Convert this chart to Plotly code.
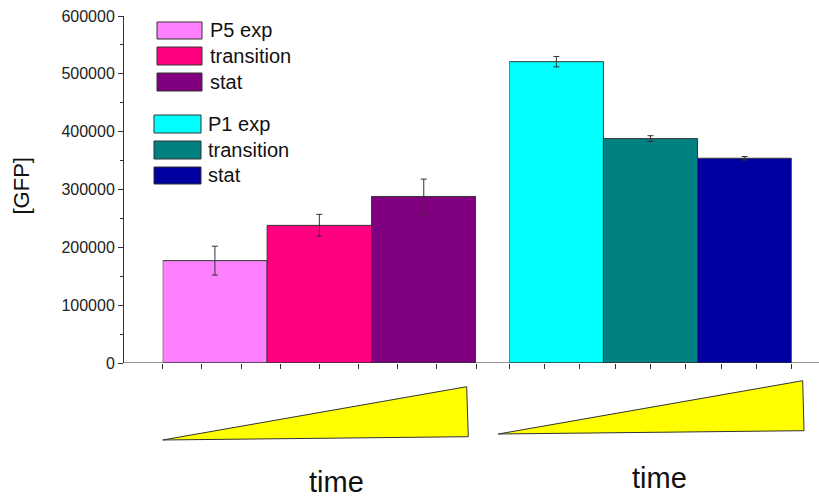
import plotly.graph_objects as go

# ---- data ----
p5_names = ["P5 exp", "transition", "stat"]
p5_values = [177000, 238000, 288000]
p5_errors = [25000, 19000, 30000]

p1_names = ["P1 exp", "transition", "stat"]
p1_values = [521000, 388000, 354000]
p1_errors = [9000, 5000, 3000]

y_ticks = [0, 100000, 200000, 300000, 400000, 500000, 600000]
x_label = "time"
y_label = "[GFP]"

# ---- styles ----
p5_colors = ["#FF80FF", "#FF0080", "#800080"]
p1_colors = ["#00FFFF", "#008080", "#0000A0"]
FONT = "Liberation Sans, Arial, sans-serif"
W, H = 819, 497
L, R, T, B = 123, 0, 16, 134
PW, PH = W - L - R, H - T - B


def px(xp):
    return (xp - L) / PW


def py(yp):
    return (H - B - yp) / PH


fig = go.Figure()

for names, vals, errs, cols, xa in [
    (p5_names, p5_values, p5_errors, p5_colors, "x"),
    (p1_names, p1_values, p1_errors, p1_colors, "x2"),
]:
    for i, (n, v, e, c) in enumerate(zip(names, vals, errs, cols)):
        fig.add_trace(go.Bar(
            x=[i], y=[v], width=1, name=n, xaxis=xa, yaxis="y",
            marker=dict(color=c, line=dict(color="#333333", width=1)),
            error_y=dict(type="data", array=[e], color="#333333",
                         thickness=1, width=3),
            showlegend=False,
        ))

xcommon = dict(range=[-0.5, 2.5], tick0=-0.5, dtick=0.375, ticks="outside",
               ticklen=5, tickcolor="#333333", showticklabels=False,
               showgrid=False, zeroline=False, showline=False, anchor="y",
               fixedrange=True)

fig.update_layout(
    width=W, height=H,
    margin=dict(l=L, r=R, t=T, b=B),
    plot_bgcolor="white", paper_bgcolor="white",
    barmode="overlay",
    xaxis=dict(domain=[px(162.7), px(476)], **xcommon),
    xaxis2=dict(domain=[px(509.3), px(791.7)], **xcommon),
    yaxis=dict(range=[0, 600000], tickvals=y_ticks, tickformat="d",
               ticks="outside", ticklen=5, tickcolor="#333333",
               showline=True, linecolor="#333333", linewidth=1,
               showgrid=False, zeroline=False, anchor="free", position=0,
               minor=dict(dtick=50000, ticks="outside", ticklen=3,
                          tickcolor="#333333"),
               tickfont=dict(family=FONT, size=16, color="#222222")),
    font=dict(family=FONT),
)

shapes = []
# x axis line across the whole plot width
shapes.append(dict(type="line", xref="paper", yref="y", x0=0, x1=1, y0=0, y1=0,
                   line=dict(color="#333333", width=1)))

annotations = []
# custom legend
legend_rows = [
    (p5_names[0], p5_colors[0], 157, 202, 22, 39, 208),
    (p5_names[1], p5_colors[1], 157, 202, 47, 65, 208),
    (p5_names[2], p5_colors[2], 157, 202, 73, 91, 208),
    (p1_names[0], p1_colors[0], 154, 201, 115, 133, 206),
    (p1_names[1], p1_colors[1], 154, 201, 141, 159, 206),
    (p1_names[2], p1_colors[2], 154, 201, 167, 184, 206),
]
for name, col, x0, x1, y0, y1, tx in legend_rows:
    shapes.append(dict(type="rect", xref="paper", yref="paper",
                       x0=px(x0), x1=px(x1), y0=py(y1), y1=py(y0),
                       fillcolor=col, line=dict(color="#333333", width=1)))
    annotations.append(dict(x=px(tx), y=py((y0 + y1) / 2), xref="paper", yref="paper",
                            text=name, showarrow=False, xanchor="left", yanchor="middle",
                            font=dict(family=FONT, size=20, color="#111111")))

# yellow time triangles
for pts in [[(162.7, 440), (466.7, 386.7), (468.3, 436.7)],
            [(498.3, 434), (802.7, 380.7), (804, 430.7)]]:
    path = "M " + " L ".join(f"{px(a):.5f} {py(b):.5f}" for a, b in pts) + " Z"
    shapes.append(dict(type="path", xref="paper", yref="paper", path=path,
                       fillcolor="#FFFF00", line=dict(color="#333333", width=1)))

for cx, cy in [(336, 482), (659, 478)]:
    annotations.append(dict(x=px(cx), y=py(cy), xref="paper", yref="paper",
                            text=x_label, showarrow=False, xanchor="center",
                            yanchor="middle",
                            font=dict(family=FONT, size=29, color="#111111")))

annotations.append(dict(x=px(20.5), y=py(186), xref="paper", yref="paper",
                        text=y_label, showarrow=False, textangle=-90,
                        xanchor="center", yanchor="middle",
                        font=dict(family=FONT, size=22, color="#111111")))

fig.update_layout(shapes=shapes, annotations=annotations)
fig.write_html("out.html", config={"displayModeBar": False},
               post_script="document.body.style.margin='0';document.body.style.overflow='hidden';")
